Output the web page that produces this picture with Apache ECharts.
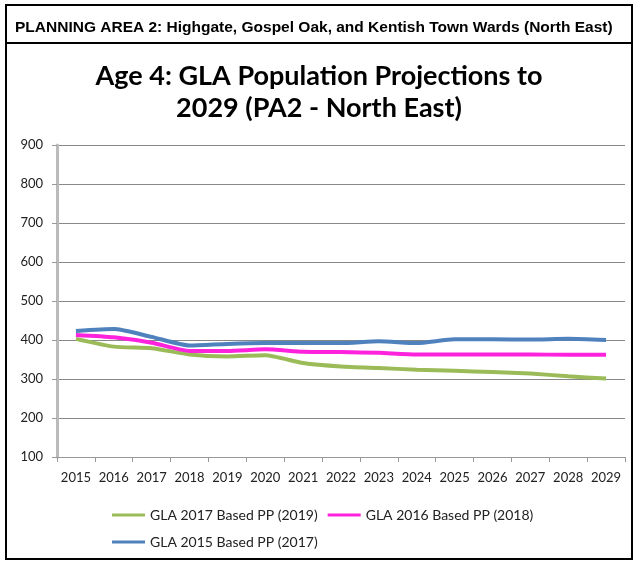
<!DOCTYPE html>
<html>
<head>
<meta charset="utf-8">
<script src="https://cdn.jsdelivr.net/npm/echarts@6/dist/echarts.min.js"></script>
<style>
  html, body { margin: 0; padding: 0; background: #fff; }
  #main { width: 638px; height: 562px; }
</style>
</head>
<body>
<div id="main"></div>
<script>
// years on the x axis
var years = ['2015', '2016', '2017', '2018', '2019', '2020', '2021', '2022',
  '2023', '2024', '2025', '2026', '2027', '2028', '2029']

// values
var pp2017 = [403, 383, 379, 363, 358, 361, 341, 332, 328, 324, 321, 318, 314, 307, 301]
var pp2016 = [413, 407, 393, 372, 372, 376, 370, 369, 367, 363, 363, 363, 363, 362, 362]
var pp2015 = [423, 428, 408, 386, 390, 392, 392, 392, 397, 392, 402, 402, 401, 403, 400]

var names = ['GLA 2017 Based PP (2019)', 'GLA 2016 Based PP (2018)', 'GLA 2015 Based PP (2017)']
var colors = ['#9bbb59', '#ff22dd', '#4f81bd']

var chart = echarts.init(document.getElementById('main'), null, { renderer: 'canvas' })

var font = 'Lato, "Open Sans", sans-serif'

function makeLine(name, data, color) {
  return {
    name: name,
    type: 'line',
    data: data,
    symbol: 'none',
    smooth: 0.2,
    lineStyle: { color: color, width: 4 },
    itemStyle: { color: color },
    z: 3,
  }
}

// legend text style, shared by both rows
var legendText = { fontFamily: font, fontSize: 14, color: '#222' }

var option = {
  animation: false,
  color: colors,
  title: [
    {
      text: 'PLANNING AREA 2: Highgate, Gospel Oak, and Kentish Town Wards (North East)',
      left: 10,
      top: 15,
      textStyle: { fontFamily: 'Arial, "Liberation Sans"', fontSize: 15.5, fontWeight: 'bold', color: '#000' },
    },
    {
      text: 'Age 4: GLA Population Projections to\n2029 (PA2 - North East)',
      left: 'center',
      top: 55,
      textStyle: { fontFamily: font, fontSize: 27, fontWeight: 'bold', color: '#000', lineHeight: 32, align: 'center' },
    },
  ],
  graphic: [
    {
      type: 'rect',
      shape: { x: 6, y: 5, width: 626, height: 554 },
      style: { fill: 'none', stroke: '#000', lineWidth: 2 },
      silent: true,
    },
    {
      type: 'line',
      shape: { x1: 6, y1: 43, x2: 632, y2: 43 },
      style: { stroke: '#000', lineWidth: 2 },
      silent: true,
    },
  ],
  legend: [
    {
      left: 107,
      top: 503,
      itemWidth: 33,
      itemHeight: 3,
      itemGap: 10,
      icon: 'rect',
      textStyle: legendText,
      data: [names[0], names[1]],
    },
    {
      left: 107,
      top: 530,
      itemWidth: 33,
      itemHeight: 3,
      icon: 'rect',
      textStyle: legendText,
      data: [names[2]],
    },
  ],
  grid: { left: 57, right: 13, top: 145, bottom: 105 },
  xAxis: {
    type: 'category',
    data: years,
    boundaryGap: true,
    axisLine: { lineStyle: { color: '#999', width: 1 } },
    axisTick: { show: true, length: 5, interval: 0, lineStyle: { color: '#999' } },
    axisLabel: { fontFamily: font, fontSize: 13, color: '#222', margin: 14, interval: 0 },
  },
  yAxis: {
    type: 'value',
    min: 100,
    max: 900,
    interval: 100,
    axisLine: { show: true, lineStyle: { color: '#bbb', width: 3 } },
    axisTick: { show: true, length: 5, inside: false, lineStyle: { color: '#999' } },
    axisLabel: { fontFamily: font, fontSize: 13, color: '#222', margin: 14 },
    splitLine: { lineStyle: { color: '#888', width: 1 } },
  },
  series: [
    makeLine(names[0], pp2017, colors[0]),
    makeLine(names[1], pp2016, colors[1]),
    makeLine(names[2], pp2015, colors[2]),
  ],
}

chart.setOption(option)
</script>
</body>
</html>
